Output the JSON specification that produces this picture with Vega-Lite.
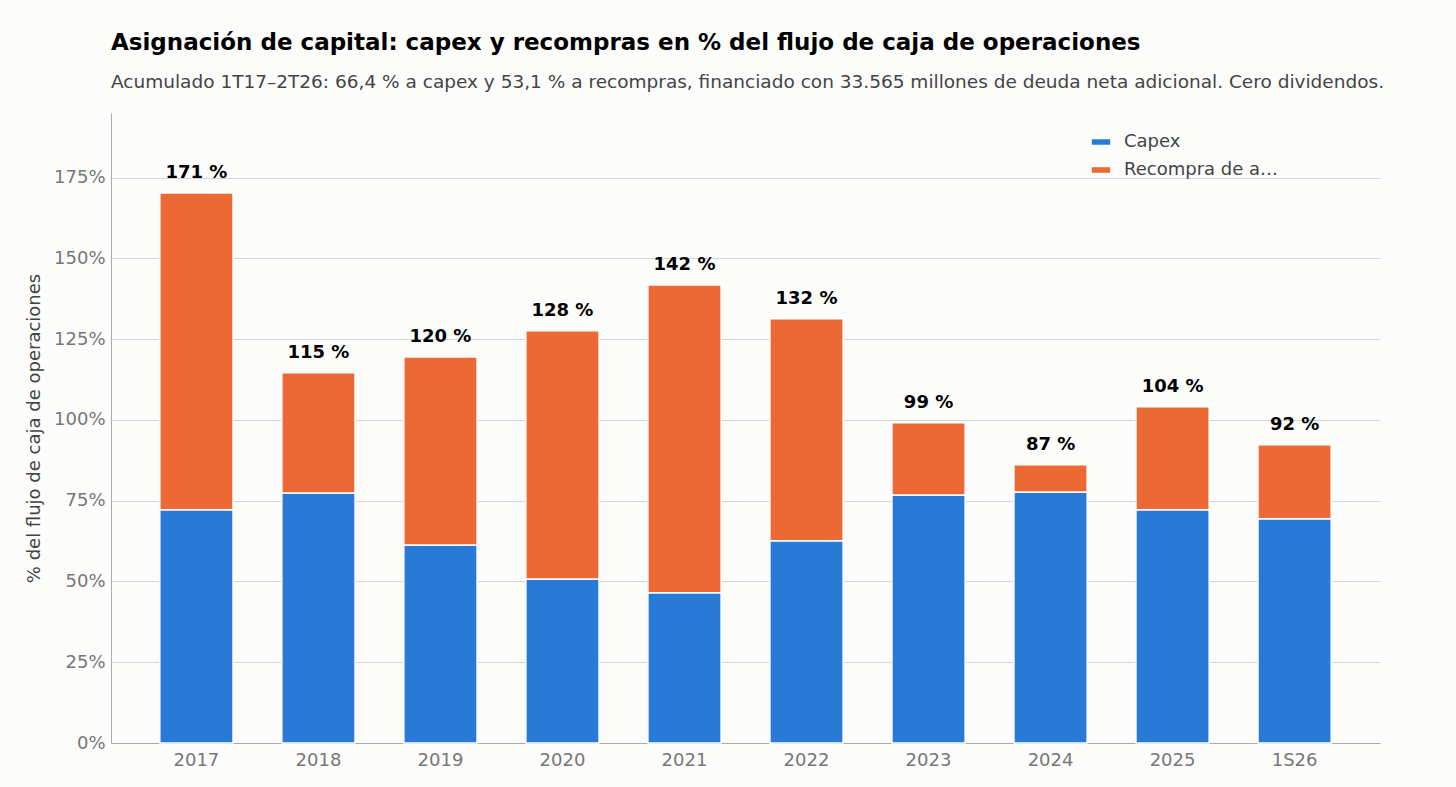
{
  "$schema": "https://vega.github.io/schema/vega-lite/v6.json",
  "width": 1269,
  "height": 630,
  "autosize": "none",
  "padding": {"left": 111, "top": 113, "right": 76, "bottom": 44},
  "background": "#fcfcfb",
  "title": {
    "text": "Asignación de capital: capex y recompras en % del flujo de caja de operaciones",
    "subtitle": "Acumulado 1T17–2T26: 66,4 % a capex y 53,1 % a recompras, financiado con 33.565 millones de deuda neta adicional. Cero dividendos.",
    "anchor": "start",
    "frame": "group",
    "fontSize": 23,
    "fontWeight": "bold",
    "color": "#000",
    "subtitleFontSize": 18.5,
    "subtitleColor": "#444",
    "subtitlePadding": 18,
    "offset": 22
  },
  "datasets": {
    "bars": [
      {"year": "2017", "serie": "Capex", "orden": 0, "valor": 72.2},
      {"year": "2017", "serie": "Recompra de acciones", "orden": 1, "valor": 98.0},
      {"year": "2018", "serie": "Capex", "orden": 0, "valor": 77.4},
      {"year": "2018", "serie": "Recompra de acciones", "orden": 1, "valor": 37.2},
      {"year": "2019", "serie": "Capex", "orden": 0, "valor": 61.3},
      {"year": "2019", "serie": "Recompra de acciones", "orden": 1, "valor": 58.2},
      {"year": "2020", "serie": "Capex", "orden": 0, "valor": 50.8},
      {"year": "2020", "serie": "Recompra de acciones", "orden": 1, "valor": 76.8},
      {"year": "2021", "serie": "Capex", "orden": 0, "valor": 46.5},
      {"year": "2021", "serie": "Recompra de acciones", "orden": 1, "valor": 95.3},
      {"year": "2022", "serie": "Capex", "orden": 0, "valor": 62.6},
      {"year": "2022", "serie": "Recompra de acciones", "orden": 1, "valor": 68.7},
      {"year": "2023", "serie": "Capex", "orden": 0, "valor": 76.8},
      {"year": "2023", "serie": "Recompra de acciones", "orden": 1, "valor": 22.3},
      {"year": "2024", "serie": "Capex", "orden": 0, "valor": 77.7},
      {"year": "2024", "serie": "Recompra de acciones", "orden": 1, "valor": 8.4},
      {"year": "2025", "serie": "Capex", "orden": 0, "valor": 72.2},
      {"year": "2025", "serie": "Recompra de acciones", "orden": 1, "valor": 31.9},
      {"year": "1S26", "serie": "Capex", "orden": 0, "valor": 69.4},
      {"year": "1S26", "serie": "Recompra de acciones", "orden": 1, "valor": 22.9}
    ],
    "totales": [
      {"year": "2017", "total": 170.2, "etiqueta": "171 %"},
      {"year": "2018", "total": 114.6, "etiqueta": "115 %"},
      {"year": "2019", "total": 119.5, "etiqueta": "120 %"},
      {"year": "2020", "total": 127.6, "etiqueta": "128 %"},
      {"year": "2021", "total": 141.8, "etiqueta": "142 %"},
      {"year": "2022", "total": 131.3, "etiqueta": "132 %"},
      {"year": "2023", "total": 99.1, "etiqueta": "99 %"},
      {"year": "2024", "total": 86.1, "etiqueta": "87 %"},
      {"year": "2025", "total": 104.1, "etiqueta": "104 %"},
      {"year": "1S26", "total": 92.3, "etiqueta": "92 %"}
    ]
  },
  "encoding": {
    "x": {
      "field": "year",
      "type": "nominal",
      "sort": null,
      "scale": {"domain": ["2017","2018","2019","2020","2021","2022","2023","2024","2025","1S26"], "paddingInner": 0.4, "paddingOuter": 0.4},
      "axis": {"title": null, "labelAngle": 0, "labelFontSize": 18, "labelColor": "#777", "ticks": false, "labelPadding": 8, "domainColor": "#aaa"}
    }
  },
  "layer": [
    {
      "data": {"name": "bars"},
      "mark": {"type": "bar", "stroke": "white", "strokeWidth": 1.5},
      "encoding": {
        "y": {
          "field": "valor",
          "type": "quantitative",
          "stack": "zero",
          "scale": {"domain": [0, 195], "nice": false},
          "axis": {"title": "% del flujo de caja de operaciones", "titleFontSize": 18, "titleFontWeight": "normal", "titleColor": "#444", "titlePadding": 10, "values": [0,25,50,75,100,125,150,175], "labelExpr": "datum.value + '%'", "labelFontSize": 18, "labelColor": "#777", "ticks": false, "gridColor": "#d5d5d5", "domainColor": "#aaa", "labelPadding": 6}
        },
        "color": {
          "field": "serie",
          "type": "nominal",
          "scale": {"domain": ["Capex", "Recompra de acciones"], "range": ["#2979d6", "#ec6935"]},
          "legend": {"title": null, "orient": "none", "legendX": 981, "legendY": 20, "labelFontSize": 18, "labelColor": "#444", "symbolType": "M-1.5,-0.45H1.5V0.45H-1.5Z", "symbolSize": 150, "symbolStrokeWidth": 0, "rowPadding": 10, "labelOffset": 14}
        },
        "order": {"field": "orden"}
      }
    },
    {
      "data": {"name": "totales"},
      "mark": {"type": "text", "dy": -20, "fontSize": 18, "fontWeight": "bold", "color": "#000"},
      "encoding": {
        "y": {"field": "total", "type": "quantitative"},
        "text": {"field": "etiqueta"}
      }
    },
    {
      "mark": {"type": "rule", "strokeDash": [9, 6], "strokeWidth": 2.5, "color": "#000"},
      "encoding": {"y": {"datum": 100}, "x": null}
    },
    {
      "mark": {"type": "text", "fontSize": 18, "color": "#000", "dx": 58},
      "encoding": {"x": {"datum": "2024"}, "y": {"datum": 183.5}, "text": {"value": "100 % del flujo de caja operativo"}}
    }
  ],
  "config": {
    "font": "DejaVu Sans",
    "view": {"stroke": null},
    "axisX": {"grid": false}
  }
}
